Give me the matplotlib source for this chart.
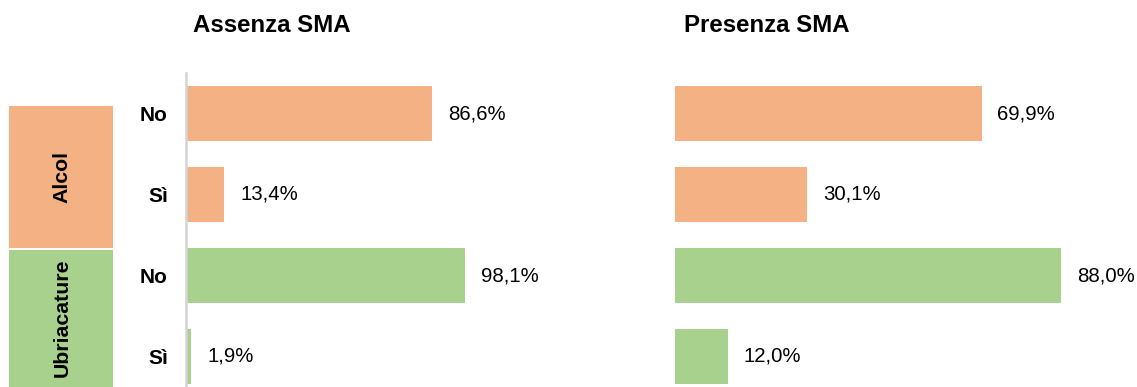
import numpy as np
import matplotlib
matplotlib.use('Agg')
import matplotlib.pyplot as plt
from matplotlib.patches import Rectangle

plt.rcParams['font.family'] = ['Liberation Sans', 'DejaVu Sans']

risposte = ['No', 'Sì', 'No', 'Sì']
gruppi = ['Alcol', 'Ubriacature']
assenza_sma = [86.6, 13.4, 98.1, 1.9]
presenza_sma = [69.9, 30.1, 88.0, 12.0]
titoli = ['Assenza SMA', 'Presenza SMA']

arancio = '#F4B183'
verde = '#A9D18E'
colori = [arancio, arancio, verde, verde]

W, H = 1137, 387
fig = plt.figure(figsize=(W / 100, H / 100), dpi=100)

def px_axes(x0, y0, x1, y1):
    # axes from pixel box (top-left origin)
    return fig.add_axes([x0 / W, 1 - y1 / H, (x1 - x0) / W, (y1 - y0) / H])

# background layer for the group boxes
bg = px_axes(0, 0, W, H)
bg.set_xlim(0, W)
bg.set_ylim(H, 0)
bg.axis('off')
bg.add_patch(Rectangle((9, 106), 104, 142, color=arancio, lw=0))
bg.add_patch(Rectangle((9, 250), 104, 137, color=verde, lw=0))
bg.text(62, 177, gruppi[0], rotation=90, ha='center', va='center',
        fontsize=15.3, fontweight='bold')
bg.text(62, 318, gruppi[1], rotation=90, ha='center', va='center',
        fontsize=15.3, fontweight='bold')

y = np.arange(len(risposte))
top_row = -0.5
bottom_row = (387 - 113.5) / 81

ax1 = px_axes(186, 73, 620, 387)
ax2 = px_axes(675, 73, W, 387)
scale = {ax1: 2.84, ax2: 4.385}

for ax, vals, tit in [(ax1, assenza_sma, titoli[0]), (ax2, presenza_sma, titoli[1])]:
    ax.barh(y, vals, height=0.68, color=colori, left=0)
    ax.set_ylim(bottom_row, top_row)
    ax.set_xlim(0, ax.bbox.width / scale[ax])
    for v, yy in zip(vals, y):
        ax.annotate(f'{v:.1f}'.replace('.', ',') + '%', (v, yy),
                    xytext=(11.5, 0), textcoords='offset points',
                    ha='left', va='center', fontsize=14.7)
    ax.set_xticks([])
    for s in ['top', 'right', 'bottom']:
        ax.spines[s].set_visible(False)
    ax.patch.set_alpha(0)

ax1.spines['left'].set_color('#d4d4d4')
ax1.spines['left'].set_linewidth(1.8)
ax1.set_yticks(y)
ax1.set_yticklabels(risposte, fontsize=15, fontweight='bold')
ax1.tick_params(axis='y', length=0, pad=13)

ax2.spines['left'].set_visible(False)
ax2.set_yticks([])

fig.text(193 / W, 1 - 25 / H, titoli[0], fontsize=17.3, fontweight='bold',
         ha='left', va='center')
fig.text(684 / W, 1 - 25 / H, titoli[1], fontsize=17.3, fontweight='bold',
         ha='left', va='center')

fig.savefig('out.png', dpi=100)
